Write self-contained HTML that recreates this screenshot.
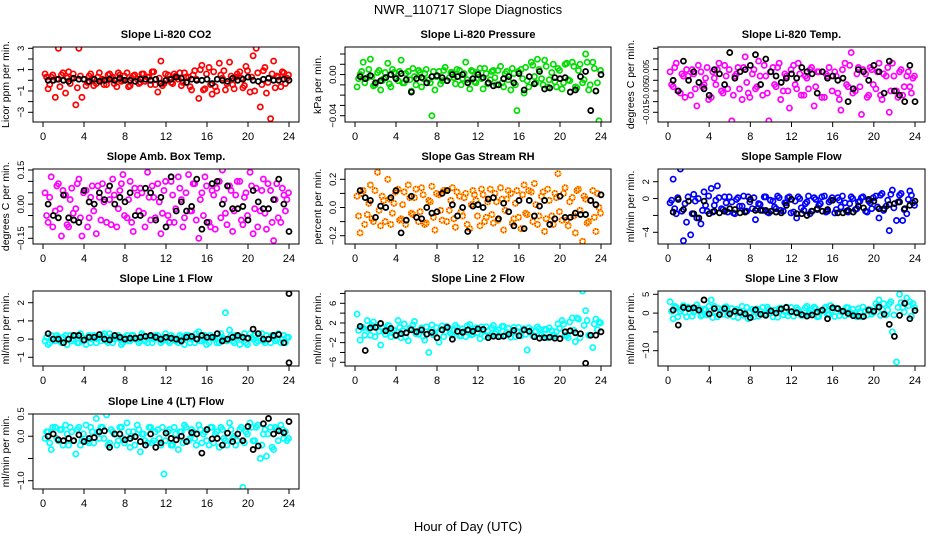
<!DOCTYPE html>
<html><head><meta charset="utf-8"><title>NWR_110717 Slope Diagnostics</title>
<style>
html,body{margin:0;padding:0;background:#fff;}
svg{display:block;font-family:"Liberation Sans",Arial,sans-serif;}
</style></head>
<body>
<svg id="chart" width="936" height="540" viewBox="0 0 936 540" xmlns="http://www.w3.org/2000/svg">
<text x="468" y="14" text-anchor="middle" font-size="13">NWR_110717  Slope Diagnostics</text>
<text x="468" y="531" text-anchor="middle" font-size="13">Hour of Day (UTC)</text>
</svg>
<script>
// shared hour categories
const hoursColor=[0.2,0.5,0.8,1.2,1.5,1.8,2.2,2.5,2.8,3.2,3.5,3.8,4.2,4.5,4.8,5.2,5.5,5.8,6.2,6.5,6.8,7.2,7.5,7.8,8.2,8.5,8.8,9.2,9.5,9.8,10.2,10.5,10.8,11.2,11.5,11.8,12.2,12.5,12.8,13.2,13.5,13.8,14.2,14.5,14.8,15.2,15.5,15.8,16.2,16.5,16.8,17.2,17.5,17.8,18.2,18.5,18.8,19.2,19.5,19.8,20.2,20.5,20.8,21.2,21.5,21.8,22.2,22.5,22.8,23.2,23.5,23.8];
const hoursColor2=[0.35,0.65,0.95,1.35,1.65,1.95,2.35,2.65,2.95,3.35,3.65,3.95,4.35,4.65,4.95,5.35,5.65,5.95,6.35,6.65,6.95,7.35,7.65,7.95,8.35,8.65,8.95,9.35,9.65,9.95,10.35,10.65,10.95,11.35,11.65,11.95,12.35,12.65,12.95,13.35,13.65,13.95,14.35,14.65,14.95,15.35,15.65,15.95,16.35,16.65,16.95,17.35,17.65,17.95,18.35,18.65,18.95,19.35,19.65,19.95,20.35,20.65,20.95,21.35,21.65,21.95,22.35,22.65,22.95,23.35,23.65,23.95];
const hoursBlack=[0.5,1,1.5,2,2.5,3,3.5,4,4.5,5,5.5,6,6.5,7,7.5,8,8.5,9,9.5,10,10.5,11,11.5,12,12.5,13,13.5,14,14.5,15,15.5,16,16.5,17,17.5,18,18.5,19,19.5,20,20.5,21,21.5,22,22.5,23,23.5,24];
const xTicks=[0,4,8,12,16,20,24];

const co2Color=[0.6,-0.8,0.3,-1.6,3.0,0.5,-1.2,0.8,0.2,-2.3,3.0,-1.6,-0.5,0.4,0.2,-0.3,0.7,0.1,-0.4,0.6,0.3,-0.6,0.5,0.0,0.7,-0.5,0.4,0.1,-0.2,0.6,0.3,-0.4,0.8,-1.1,1.8,-0.3,0.5,-0.2,0.6,0.1,-0.5,0.7,0.3,-0.9,0.9,-1.7,1.4,-0.8,1.2,-1.3,-0.6,1.6,0.2,-0.9,1.7,-0.4,0.3,0.8,-0.7,1.3,-1.1,2.3,3.0,-2.5,0.9,-1.2,-3.6,1.8,0.4,-0.6,0.7,0.2];
const co2Color2=[0.3,-0.4,0.5,0.1,-0.6,0.7,0.2,-0.3,0.6,-0.7,0.4,0.1,-0.2,0.6,-0.5,0.3,0.0,-0.4,0.5,0.2,-0.3,0.7,-0.1,0.4,-0.6,0.2,0.5,-0.3,0.6,-0.1,0.3,0.8,-0.4,0.2,-0.5,0.6,0.1,-0.3,0.4,0.7,-0.2,0.3,-0.6,0.5,0.1,1.0,-0.9,0.6,-0.4,0.8,-1.0,0.5,0.9,-0.3,0.4,-0.8,0.6,0.2,-0.5,0.9,0.3,-1.0,0.7,-0.4,1.2,-0.2,0.6,-0.7,0.3,0.8,-0.3,0.5];
const co2Black=[0,0,0.1,0,-0.1,0.2,0.1,0.1,-0.1,0.1,-0.1,0,0.1,0,0.2,0,0,-0.1,0.1,0.1,0,0.1,-0.3,0,0.1,0.3,0.2,-0.2,0.1,0,0,0.1,-0.3,0.1,0,-0.1,0.2,0,0.1,0.3,0,-0.1,0.1,0.2,0,0,0.1,0];
const presColor=[-0.012,0.0,0.012,-0.003,0.015,-0.011,0.002,-0.015,-0.004,0.011,-0.012,0.002,-0.006,0.014,-0.008,0.003,-0.016,-0.002,0.004,-0.012,0.001,-0.005,-0.04,-0.015,0.003,-0.006,0.007,-0.003,0.002,-0.009,0.004,-0.004,0.012,-0.014,0.003,-0.008,0.006,-0.014,0.001,-0.005,0.004,-0.01,0.008,-0.012,0.003,-0.015,0.001,-0.035,0.005,-0.018,-0.006,0.012,-0.002,0.015,-0.004,0.014,-0.012,0.002,-0.007,0.006,-0.014,0.010,-0.005,0.012,-0.012,0.004,-0.008,0.02,-0.015,0.012,-0.016,-0.045];
const presColor2=[-0.004,0.003,-0.008,0.005,-0.002,-0.01,0.004,-0.006,0.002,-0.009,0.005,-0.003,0.003,-0.008,0.001,-0.005,0.006,-0.01,0.002,-0.004,0.005,-0.008,0.003,-0.002,-0.009,0.004,-0.006,0.002,-0.003,0.005,-0.01,0.001,-0.005,0.004,-0.007,0.002,-0.004,0.006,-0.009,0.003,-0.003,0.004,-0.008,0.001,-0.005,0.006,-0.01,0.003,-0.004,0.007,-0.012,0.009,-0.008,0.005,-0.01,0.008,-0.005,0.01,-0.012,0.004,-0.008,0.011,-0.006,0.008,-0.013,0.01,-0.005,0.012,-0.01,0.006,-0.008,0.004];
const presBlack=[-0.002,-0.004,-0.001,-0.008,-0.006,-0.003,0.0,-0.004,0.001,-0.005,-0.017,-0.004,-0.003,-0.008,-0.002,-0.001,-0.003,-0.006,0.0,-0.002,0.0,-0.008,-0.004,0.0,-0.003,-0.008,-0.011,-0.01,-0.004,-0.002,-0.008,0.001,-0.015,-0.002,-0.009,0.003,-0.014,-0.013,-0.003,-0.004,-0.003,-0.017,-0.015,-0.002,0.003,-0.035,-0.016,0.0];
const tempColor=[0.004,-0.003,0.008,-0.006,0.002,0.005,-0.007,0.003,-0.012,0.004,-0.002,0.006,-0.008,0.001,0.005,-0.005,0.007,-0.004,-0.019,0.002,0.006,-0.009,0.011,-0.006,0.003,-0.004,0.009,-0.007,0.002,-0.019,0.006,-0.003,0.008,-0.005,0.002,-0.013,0.007,-0.004,0.003,-0.007,0.001,0.005,-0.012,0.004,0.018,-0.008,0.002,-0.024,0.004,-0.006,-0.014,0.008,-0.003,0.013,-0.005,0.006,-0.016,0.003,-0.007,0.005,-0.004,0.008,-0.009,0.002,-0.015,0.008,-0.005,0.004,-0.007,0.002,-0.003,0.001];
const tempColor2=[-0.002,0.006,-0.005,0.003,-0.008,0.002,0.005,-0.004,0.007,-0.003,0.001,-0.009,0.004,-0.002,0.008,-0.006,0.002,0.005,-0.007,0.003,-0.004,0.006,-0.001,-0.008,0.005,-0.003,0.002,0.007,-0.006,0.004,-0.002,0.006,-0.009,0.003,-0.005,0.005,-0.002,0.008,-0.007,0.002,-0.004,0.006,-0.003,0.004,-0.008,0.003,0.006,-0.005,0.002,-0.009,0.005,-0.002,0.007,-0.006,0.003,-0.003,0.005,-0.008,0.006,-0.002,0.004,-0.007,0.003,0.006,-0.005,0.002,-0.008,0.005,-0.003,0.004,-0.006,0.002];
const tempBlack=[0.0,-0.005,0.009,0.0,0.004,-0.001,-0.004,-0.007,0.005,0.003,-0.002,0.013,0.001,0.004,0.005,0.007,0.012,-0.002,0.010,0.004,0.002,-0.001,0.001,0.003,0.001,0.006,0.004,0.003,-0.006,0.004,0.001,0.002,0.000,0.001,-0.010,-0.004,0.005,0.004,0.000,0.007,0.004,-0.006,0.009,-0.005,-0.007,-0.010,0.007,-0.010];
const ambColor=[0.05,-0.08,0.12,-0.03,0.09,-0.14,0.04,-0.1,0.07,-0.02,0.11,-0.14,0.06,-0.06,0.08,-0.13,0.03,0.09,-0.08,0.02,0.11,-0.1,0.06,0.13,-0.06,0.1,-0.12,0.04,0.07,-0.04,0.14,-0.07,0.03,0.09,-0.13,0.06,-0.05,0.1,-0.08,0.12,0.02,-0.06,0.13,-0.03,0.09,-0.15,0.05,0.12,-0.08,0.06,-0.11,0.1,0.15,-0.04,0.08,-0.12,0.04,0.1,-0.09,0.05,0.14,-0.13,0.07,-0.03,0.11,-0.11,0.06,-0.16,0.09,-0.08,0.04,0.02];
const ambColor2=[-0.05,0.03,-0.1,0.08,-0.02,0.06,-0.09,0.02,-0.04,0.09,-0.06,0.05,-0.1,0.03,-0.03,0.08,-0.07,0.01,0.06,-0.09,0.04,-0.02,0.09,-0.05,0.02,-0.08,0.07,-0.03,0.05,-0.1,0.03,0.08,-0.06,0.01,-0.04,0.1,-0.08,0.04,-0.02,0.07,-0.1,0.05,-0.03,0.09,-0.07,0.02,-0.05,0.08,-0.1,0.04,0.07,-0.06,0.02,-0.09,0.06,-0.03,0.1,-0.07,0.03,-0.05,0.08,-0.02,-0.1,0.06,-0.04,0.09,-0.08,0.02,-0.06,0.07,-0.03,0.05];
const ambBlack=[0.0,-0.05,-0.06,0.04,-0.06,-0.07,-0.08,0.06,0.01,0.0,0.05,0.02,0.08,0.0,0.03,0.01,0.05,-0.05,-0.05,0.07,0.05,-0.07,0.03,-0.1,0.12,-0.03,0.01,-0.03,-0.01,0.11,-0.11,-0.08,0.09,0.1,0.0,0.08,-0.02,-0.02,-0.01,-0.07,0.06,0.01,-0.02,-0.02,0.02,0.11,0.0,-0.12];
const rhColor=[0.08,-0.18,0.12,-0.05,0.16,-0.1,0.25,-0.13,0.05,0.2,-0.12,0.03,0.13,-0.08,0.11,0.16,-0.04,0.07,-0.1,0.14,-0.12,0.05,0.15,-0.16,0.09,-0.09,0.12,-0.02,0.14,-0.14,0.08,-0.06,0.1,-0.15,0.12,0.05,-0.13,0.09,-0.07,0.13,-0.11,0.04,0.14,-0.16,0.06,0.1,-0.08,0.12,-0.15,0.16,-0.05,0.11,0.17,-0.12,0.08,-0.17,0.13,-0.06,0.1,0.24,-0.09,0.14,-0.13,0.07,-0.18,0.13,-0.24,0.06,-0.1,0.12,-0.17,0.0];
const rhColor2=[-0.06,0.1,-0.12,0.03,-0.08,0.12,-0.02,0.08,-0.1,0.06,-0.04,0.11,-0.09,0.02,-0.12,0.07,-0.05,0.13,-0.03,0.09,-0.11,0.04,-0.07,0.1,-0.02,0.12,-0.1,0.05,-0.08,0.11,-0.03,0.07,-0.12,0.02,0.09,-0.06,0.13,-0.1,0.04,-0.05,0.1,-0.09,0.06,-0.02,0.12,-0.11,0.03,-0.07,0.09,-0.04,0.12,-0.1,0.02,-0.06,0.11,-0.08,0.05,-0.12,0.07,-0.03,0.1,-0.09,0.04,-0.06,0.12,-0.02,0.08,-0.11,0.05,-0.07,0.1,-0.04];
const rhBlack=[0.12,0.07,0.05,-0.07,0.01,0.0,0.07,0.12,-0.18,-0.09,0.08,-0.07,-0.08,0.0,-0.04,-0.03,0.1,0.12,0.02,-0.06,0.0,-0.17,0.01,0.02,0.0,0.06,0.07,-0.08,0.03,-0.03,-0.13,0.05,-0.15,0.05,-0.06,0.01,0.05,-0.12,-0.08,0.08,-0.07,-0.07,-0.04,-0.05,-0.05,0.05,0.02,0.09];
const sampleColor=[-0.5,2.3,-1.8,3.5,-5.0,-2.8,-4.3,0.5,-2.3,-3.0,0.8,-1.5,1.2,-0.8,1.5,-1.2,0.2,-1.6,-0.4,-1.8,0.1,-0.9,-1.5,0.2,-1.2,-2.5,-0.6,-1.4,0.2,-1.7,-0.3,-1.2,0.1,-1.5,-0.5,0.2,-1.6,-2.3,0.0,-1.4,-0.4,-1.8,0.1,-1.3,-0.6,0.3,-1.5,-0.2,-1.7,0.1,-1.0,-0.5,-1.6,0.2,-1.3,-0.4,0.1,-1.5,-0.3,-1.2,0.3,-2.3,0.6,-0.9,-3.8,1.0,-2.6,0.4,-2.6,-1.8,0.9,-0.5];
const sampleColor2=[-0.2,-1.2,0.1,-1.5,-0.6,0.2,-1.8,-0.3,0.0,-1.4,-0.8,0.3,-1.6,-0.2,0.1,-1.3,-0.5,0.2,-1.7,-0.1,-0.9,0.3,-1.5,-0.4,0.1,-1.2,-0.7,0.2,-1.6,-0.2,-1.0,0.3,-1.4,-0.5,0.1,-1.7,-0.3,0.2,-1.1,-0.6,0.3,-1.5,-0.1,-0.8,0.2,-1.6,-0.4,0.1,-1.3,-0.2,0.3,-1.5,-0.6,0.0,-1.2,-0.3,0.2,-1.6,-0.5,0.1,-1.0,0.4,-1.4,-0.2,0.5,-1.1,-0.4,0.6,-1.3,-0.1,0.4,-0.8];
const sampleBlack=[-1.6,-0.1,-1.3,-0.3,-1.8,-2.3,-0.3,-1.8,-1.5,-1.7,-1.5,-1.2,-1.3,-1.7,-1.6,-0.1,-1.4,-1.4,-1.4,-1.5,-1.6,-1.7,-0.8,-0.1,-1.8,-1.8,-2.0,-1.5,-1.2,-1.5,-1.3,-0.2,-1.7,-1.7,-1.4,-1.6,-0.9,-1.1,-0.1,-0.3,-1.2,-1.2,-0.7,-0.6,-0.4,-1.2,-0.8,-0.3];
const line1Color=[-0.1,-0.3,0.2,-0.1,0.1,-0.2,0.2,0.0,-0.1,0.2,-0.2,0.1,-0.3,0.2,0.0,-0.2,0.1,0.2,-0.1,0.3,-0.2,0.1,0.0,-0.2,0.2,-0.1,0.2,0.0,-0.1,0.2,-0.2,0.1,0.0,0.2,-0.2,0.1,-0.1,0.2,0.0,-0.2,0.1,-0.3,0.2,0.0,-0.2,0.4,-0.1,0.2,-0.2,0.1,0.0,-0.2,0.1,1.45,0.5,-0.1,0.2,-0.3,0.1,-0.2,0.3,0.0,-0.2,0.1,-0.1,0.2,-0.2,0.1,0.0,-0.2,0.2,0.1];
const line1Color2=[0.1,-0.2,0.0,0.2,-0.1,0.1,-0.3,0.2,0.0,-0.2,0.3,-0.1,0.1,-0.2,0.2,0.0,-0.1,0.3,-0.2,0.1,0.0,0.2,-0.3,0.1,-0.1,0.2,0.0,-0.2,0.3,-0.1,0.1,-0.2,0.2,0.0,-0.1,0.3,-0.2,0.1,-0.1,0.2,0.0,0.2,-0.2,0.1,0.3,-0.1,0.0,-0.3,0.2,0.1,-0.2,0.3,0.0,-0.1,0.2,-0.2,0.1,0.0,0.3,-0.3,0.1,0.2,-0.1,0.3,-0.2,0.0,0.2,-0.1,0.3,0.0,-0.2,0.1];
const line1Black=[0.3,0.0,0.0,-0.2,0.0,0.2,0.2,-0.05,0.1,0.1,0.25,0.0,-0.05,0.2,0.1,0.0,0.05,0.05,0.1,0.15,0.2,0.1,0.0,0.1,0.05,0.0,-0.1,0.1,0.15,0.0,0.2,0.1,0.1,0.3,-0.1,0.0,0.1,0.2,0.1,0.05,0.55,0.3,0.0,0.0,0.2,0.25,-0.2,2.5];
const line1Extra=[-1.3];
const line2Color=[3.8,-1.5,1.0,2.5,-0.5,2.2,1.2,-2.5,0.3,1.5,-0.8,0.5,2.5,-1.0,1.8,-1.6,0.8,2.3,-0.3,1.0,-1.5,-4.0,1.6,-0.2,-1.9,1.4,0.2,0.9,-0.5,1.5,-0.6,0.8,-0.8,1.7,-0.3,1.0,-1.2,0.5,1.2,-0.6,1.5,0.2,-0.7,1.3,0.1,-0.9,1.1,0.3,-0.6,0.8,-3.5,0.6,-0.8,1.2,-0.5,0.7,-1.0,0.4,-0.6,1.8,2.5,-0.5,-1.0,3.0,-1.8,2.8,8.5,4.5,-0.5,-3.0,2.8,2.2];
const line2Color2=[0.5,1.2,-0.5,0.8,1.5,-0.8,0.3,1.0,-0.3,1.4,0.0,-0.6,1.1,0.4,-0.9,0.9,1.6,-0.2,0.6,-0.7,1.2,0.2,-0.4,1.0,0.7,-0.8,1.3,-0.1,0.5,1.1,-0.6,0.3,1.4,-0.4,0.8,0.0,1.2,-0.7,0.4,1.0,-0.2,0.6,1.3,-0.5,0.9,0.1,-0.8,1.1,0.5,-0.3,1.0,-0.6,0.3,0.8,-0.9,0.6,1.0,-0.4,0.2,0.9,1.8,-0.6,2.2,0.5,3.0,-1.0,1.5,2.5,-0.5,1.8,0.6,2.0];
const line2Black=[1.3,-3.6,1.0,1.1,1.9,0.4,0.9,-0.5,-0.2,0.0,0.6,0.2,0.6,-0.3,0.1,-1.0,0.6,1.1,-1.3,0.3,0.1,0.6,0.3,0.8,0.7,-1.0,-0.7,-0.8,-0.7,-0.3,0.5,-0.6,0.6,0.3,-0.8,-1.1,-1.0,-0.9,-1.1,-1.2,0.2,0.4,0.0,-0.2,-6.2,-0.5,-0.5,0.2];
const line3Color=[3.0,-1.5,1.5,0.5,2.0,-1.0,1.3,0.2,2.2,-0.8,1.0,-0.5,3.5,1.8,-1.0,0.8,1.5,-0.6,1.2,0.3,-1.2,1.8,0.0,-1.5,1.0,0.5,-0.8,1.5,-0.2,1.0,-1.0,0.8,1.2,-0.5,1.6,0.2,-0.8,1.4,0.3,-0.6,1.8,0.0,1.6,-1.0,0.5,1.3,-0.4,2.0,-0.9,1.2,0.4,-0.7,1.4,0.1,-0.5,1.2,-1.0,0.6,1.0,-0.3,2.5,3.5,1.0,-0.5,2.5,-5.0,-13.0,5.0,1.5,4.0,3.0,2.5];
const line3Color2=[0.5,1.8,-1.0,1.0,0.2,1.6,-0.8,0.6,1.4,-0.5,0.9,1.8,-1.2,0.4,1.2,-0.3,1.7,0.1,-0.9,1.0,0.6,-0.6,1.5,0.3,-1.0,1.1,0.5,-0.4,1.6,0.0,0.8,-1.1,1.3,0.4,-0.7,1.5,0.2,0.9,-0.6,1.4,-0.2,0.7,1.2,-0.9,0.5,1.6,-0.4,0.8,1.3,-0.7,0.6,1.5,-0.3,1.0,-1.0,0.4,1.6,-0.5,0.9,0.2,1.8,-0.6,2.5,0.8,3.0,-0.5,1.5,2.8,0.3,2.0,-0.8,1.5];
const line3Black=[0.8,-3.2,1.5,1.2,1.4,0.8,3.5,-0.2,1.2,-0.4,1.2,-0.2,0.5,0.2,-0.2,-1.2,0.9,-0.3,-0.6,0.6,0.0,1.1,1.5,0.4,0.1,-0.4,-0.8,-0.5,0.3,0.8,-1.5,1.4,1.2,0.5,-0.1,-0.7,-0.8,-0.9,0.8,0.5,1.6,-0.3,-3.0,-6.2,-0.6,2.6,-1.5,0.7];
const line4Color=[-0.05,0.1,-0.3,0.2,-0.1,0.15,0.25,-0.2,0.1,-0.4,0.2,-0.1,0.25,-0.15,0.1,0.4,-0.05,0.2,0.48,-0.15,0.1,-0.2,0.2,-0.05,0.3,-0.25,0.1,0.25,-0.35,0.05,-0.15,0.2,-0.1,0.15,-0.2,-0.85,0.1,-0.2,0.2,-0.3,0.1,0.25,-0.1,0.15,-0.05,0.25,-0.15,0.1,-0.2,0.2,0.05,-0.25,0.15,-0.1,0.3,-0.05,-0.2,0.15,-1.15,0.1,0.3,-0.1,0.2,-0.5,0.05,-0.45,0.2,-0.3,0.15,0.25,-0.05,-0.1];
const line4Color2=[0.1,-0.15,0.2,-0.05,0.15,-0.2,0.05,0.2,-0.1,0.15,-0.2,0.05,-0.1,0.2,-0.15,0.1,0.2,-0.05,-0.2,0.15,0.05,-0.1,0.2,-0.15,0.1,0.0,-0.2,0.15,0.05,-0.1,0.2,-0.15,0.1,-0.05,0.2,-0.1,0.15,-0.2,0.05,0.1,-0.15,0.2,-0.05,0.1,-0.2,0.15,0.05,-0.1,0.2,-0.15,0.1,0.2,-0.05,-0.2,0.15,0.0,-0.1,0.2,-0.15,0.05,0.2,-0.1,0.25,-0.2,0.15,0.05,-0.25,0.2,-0.1,0.15,0.1,-0.05];
const line4Black=[0.0,0.05,-0.08,-0.1,-0.05,-0.1,0.03,-0.12,-0.05,-0.03,0.1,0.12,-0.25,0.05,0.05,-0.08,-0.05,-0.01,-0.12,-0.2,0.05,-0.25,-0.15,0.07,-0.05,-0.08,0.0,-0.12,0.08,0.05,-0.38,0.15,-0.06,-0.05,-0.2,0.07,-0.12,0.05,-0.1,0.22,-0.3,-0.22,0.28,0.4,0.05,0.12,0.08,0.33];

// y tick values and labels per panel
const co2Ticks=[3,2,1,0,-1,-2,-3], co2Labels=["3","1","-1","-3"];
const presTicks=[0.02,0.01,0,-0.01,-0.02,-0.03,-0.04], presLabels=["0.00","-0.04"];
const tempTicks=[0.015,0.01,0.005,0,-0.005,-0.01,-0.015], tempLabels=["0.005","-0.005","-0.015"];
const ambTicks=[0.15,0.1,0.05,0,-0.05,-0.1,-0.15], ambLabels=["0.15","0.00","-0.15"];
const rhTicks=[0.2,0.1,0,-0.1,-0.2], rhLabels=["0.2","0.0","-0.2"];
const sampleTicks=[2,0,-2,-4], sampleLabels=["2","0","-4"];
const line1Ticks=[2,1,0,-1], line1Labels=["2","1","0","-1"];
const line2Ticks=[8,6,4,2,0,-2,-4,-6], line2Labels=["6","2","-2","-6"];
const line3Ticks=[5,0,-5,-10], line3Labels=["5","0","-10"];
const line4Ticks=[0.5,0,-0.5,-1], line4Labels=["0.5","0.0","-1.0"];

const NS="http://www.w3.org/2000/svg";
const svg=document.getElementById('chart');
const colLeft=[33,345,658], rowTop=[47,169,291,414], BW=266, BH=75;
function mk(tag,attrs,parent){const e=document.createElementNS(NS,tag);for(const k in attrs)e.setAttribute(k,attrs[k]);(parent||svg).appendChild(e);return e;}

const panels=[
 {id:'co2',title:'Slope Li-820 CO2',ylab:'Licor ppm per min.',c:0,r:0,a:[3,1.3],b:[-3,65.3],ticks:co2Ticks,labels:co2Labels,color:'#ff0000',col:co2Color,col2:co2Color2,blk:co2Black},
 {id:'pressure',title:'Slope Li-820 Pressure',ylab:'kPa per min.',c:1,r:0,a:[0.02,7],b:[-0.04,68.7],ticks:presTicks,labels:presLabels,color:'#00dd00',col:presColor,col2:presColor2,blk:presBlack},
 {id:'temp',title:'Slope Li-820 Temp.',ylab:'degrees C per min.',c:2,r:0,a:[0.015,1.3],b:[-0.015,65.3],ticks:tempTicks,labels:tempLabels,color:'#ff00ff',col:tempColor,col2:tempColor2,blk:tempBlack,tfs:8},
 {id:'amb-box-temp',title:'Slope Amb. Box Temp.',ylab:'degrees C per min.',c:0,r:1,a:[0.15,1],b:[-0.15,69.3],ticks:ambTicks,labels:ambLabels,color:'#ff00ff',col:ambColor,col2:ambColor2,blk:ambBlack},
 {id:'gas-stream-rh',title:'Slope Gas Stream RH',ylab:'percent per min.',c:1,r:1,a:[0.2,10.3],b:[-0.2,66.7],ticks:rhTicks,labels:rhLabels,color:'orange',col:rhColor,col2:rhColor2,blk:rhBlack},
 {id:'sample-flow',title:'Slope Sample Flow',ylab:'ml/min per min.',c:2,r:1,a:[2,12.7],b:[-4,63.3],ticks:sampleTicks,labels:sampleLabels,color:'#0000ff',col:sampleColor,col2:sampleColor2,blk:sampleBlack},
 {id:'line1-flow',title:'Slope Line 1 Flow',ylab:'ml/min per min.',c:0,r:2,a:[2,11.7],b:[-1,66.3],ticks:line1Ticks,labels:line1Labels,color:'#00ffff',col:line1Color,col2:line1Color2,blk:line1Black,extra:line1Extra},
 {id:'line2-flow',title:'Slope Line 2 Flow',ylab:'ml/min per min.',c:1,r:2,a:[6,12.3],b:[-6,71.3],ticks:line2Ticks,labels:line2Labels,color:'#00ffff',col:line2Color,col2:line2Color2,blk:line2Black},
 {id:'line3-flow',title:'Slope Line 3 Flow',ylab:'ml/min per min.',c:2,r:2,a:[5,3.3],b:[-10,59.7],ticks:line3Ticks,labels:line3Labels,color:'#00ffff',col:line3Color,col2:line3Color2,blk:line3Black},
 {id:'line4-flow',title:'Slope Line 4 (LT) Flow',ylab:'ml/min per min.',c:0,r:3,a:[0.5,0],b:[-1,66.7],ticks:line4Ticks,labels:line4Labels,color:'#00ffff',col:line4Color,col2:line4Color2,blk:line4Black}
];

function drawColor(pts,p,hours,vals,xs,ys){
  const n=Math.min(vals.length,hours.length);
  for(let i=0;i<n;i++){
    const cx=xs(hours[i]), cy=ys(vals[i]);
    if(p.color==='orange'){
      const c1=mk('circle',{cx,cy,r:2.6,fill:'none',stroke:'#ff3000','stroke-width':1.7},pts);
      
      
      mk('circle',{cx,cy,r:2.6,fill:'none',stroke:'#ffd000','stroke-width':1.7,'stroke-dasharray':'1.2 1.2'},pts);
    } else {
      const c1=mk('circle',{cx,cy,r:2.6,fill:'none',stroke:p.color,'stroke-width':1.7},pts);
      
      
    }
  }
}

panels.forEach(p=>{
  const L=colLeft[p.c], T=rowTop[p.r], W=(p.c===2?267:BW);
  const xs=h=>L+10+h*(W-20)/24;
  const k=(p.b[1]-p.a[1])/(p.b[0]-p.a[0]);
  const ys=v=>T+p.a[1]+(v-p.a[0])*k;
  const g=mk('g',{});
  
  
  const t=mk('text',{x:L+W/2,y:T-9,'text-anchor':'middle','font-size':'11','font-weight':'bold'},g);
  
  
  t.textContent=p.title;
  const clip=mk('clipPath',{id:'clip-'+p.id},g);
  mk('rect',{x:L,y:T,width:W,height:BH},clip);
  const pts=mk('g',{'clip-path':'url(#clip-'+p.id+')'},g);
  
  
  drawColor(pts,p,hoursColor2,p.col2,xs,ys);
  drawColor(pts,p,hoursColor,p.col,xs,ys);
  const m=Math.min(p.blk.length,hoursBlack.length);
  for(let i=0;i<m;i++){
    const c2=mk('circle',{cx:xs(hoursBlack[i]),cy:ys(p.blk[i]),r:2.5,fill:'none',stroke:'#000','stroke-width':1.8},pts);
    
    
  }
  if(p.extra){p.extra.forEach(v=>{
    const c3=mk('circle',{cx:xs(24),cy:ys(v),r:2.5,fill:'none',stroke:'#000','stroke-width':1.8},pts);
    
    
  });}
  const box=mk('rect',{x:L,y:T,width:W,height:BH,fill:'none',stroke:'#000','stroke-width':1},g);
  
  
  const xa=mk('g',{},g);
  
  
  mk('line',{x1:xs(0),x2:xs(24),y1:T+BH,y2:T+BH,stroke:'#000'},xa);
  xTicks.forEach(h=>{
    mk('line',{x1:xs(h),x2:xs(h),y1:T+BH,y2:T+BH+5,stroke:'#000'},xa);
    const tl=mk('text',{x:xs(h),y:T+BH+18,'text-anchor':'middle','font-size':'11'},xa);
    
    
    tl.textContent=h;
  });
  const ya=mk('g',{},g);
  
  
  const t0=p.ticks[0], t1=p.ticks[p.ticks.length-1];
  mk('line',{x1:L,x2:L,y1:ys(t0),y2:ys(t1),stroke:'#000'},ya);
  p.ticks.forEach(v=>{mk('line',{x1:L-5,x2:L,y1:ys(v),y2:ys(v),stroke:'#000'},ya);});
  p.labels.forEach(s=>{
    const v=parseFloat(s), yy=ys(v), xx=L-9;
    const yl=mk('text',{x:xx,y:yy,'text-anchor':'middle','font-size':String(p.tfs||9.5),transform:'rotate(-90 '+xx+' '+yy+')'},ya);
    
    
    yl.textContent=s.replace('-','\u2212');
  });
  const yx=L-24, yy=T+BH/2;
  const yt=mk('text',{x:yx,y:yy,'text-anchor':'middle','font-size':'10.5',transform:'rotate(-90 '+yx+' '+yy+')'},g);
  
  
  yt.textContent=p.ylab;
});
</script>
</body></html>
